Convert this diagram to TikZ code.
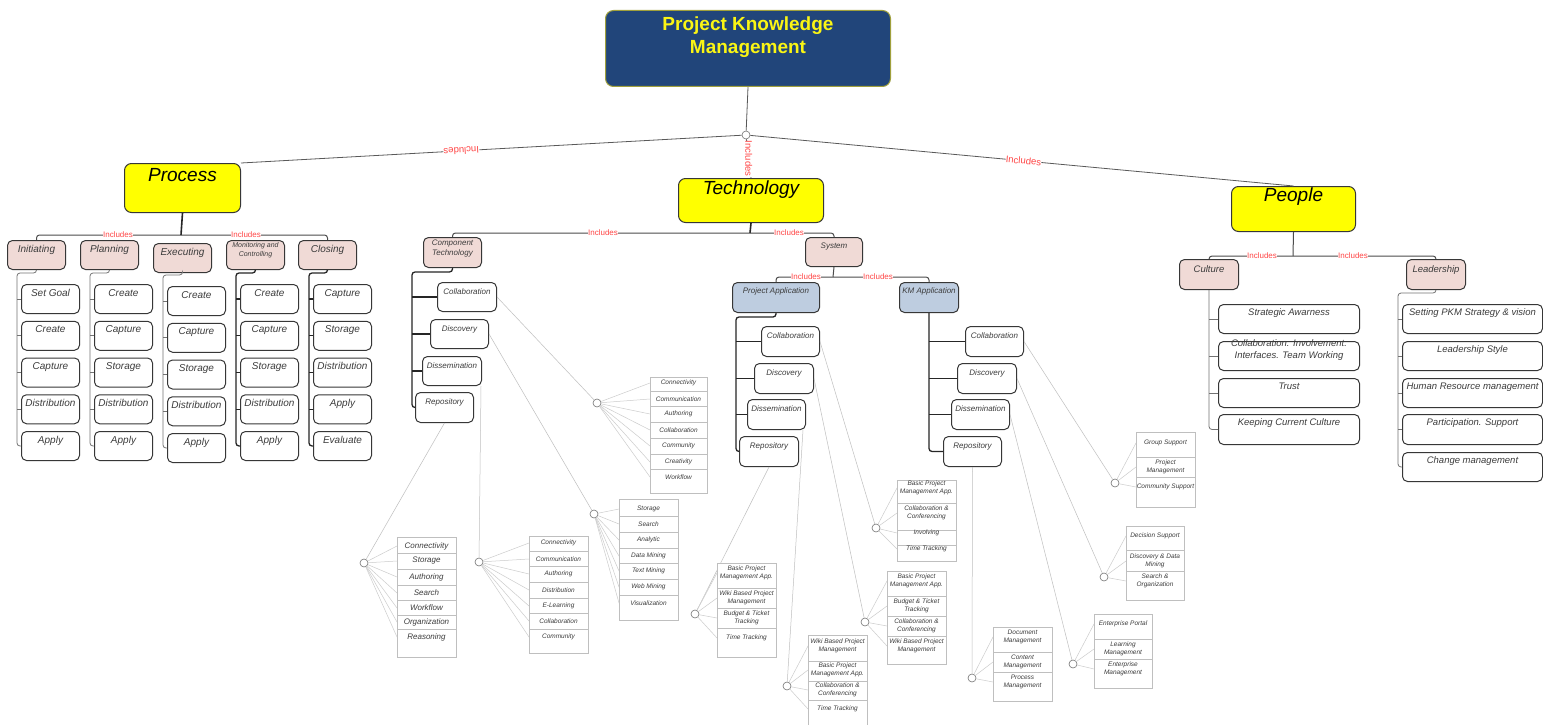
\documentclass[tikz,border=0pt]{standalone}
\usepackage{fontspec}
\setmainfont{Liberation Sans}
\usetikzlibrary{calc}
\definecolor{kmblue}{RGB}{33,69,122}
\definecolor{kmborder}{RGB}{160,160,60}
\definecolor{kmyellow}{RGB}{255,255,0}
\definecolor{kmtitle}{RGB}{250,245,20}
\definecolor{kmpink}{RGB}{240,218,214}
\definecolor{kmlblue}{RGB}{190,205,224}
\definecolor{kmred}{RGB}{255,70,70}
\definecolor{kmtext}{RGB}{60,60,60}
\definecolor{kmedge}{RGB}{55,55,55}
% box with text at its top: name, style, x, y, w, h, text style, yshift, text
\newcommand\bx[9]{%
  \node[#2, minimum width=#5pt, minimum height=#6pt, anchor=north west] (#1) at ({#3},{#4}) {};
  \node[txtnode, #7, anchor=north] (#1-t) at ([yshift=#8pt]#1.north) {#9};}
% list box: id, x, y, w, h, items (text/y), dividers, text style
\newcommand\lbox[8]{%
  \node[listbox, minimum width=#4pt, minimum height=#5pt, anchor=north west] (#1) at (#2,#3) {};
  \foreach \yy in {#7} {\draw[listdiv] (#2,\yy) -- ({#2+#4},\yy);}
  \foreach \itm/\yy [count=\ix] in {#6} {%
    \node[#8] (#1-\ix) at ({#2+#4/2},\yy) {\itm};
    \draw[fanln] (#1-hub) -- (#1.west |- #1-\ix);
  }}
\begin{document}
\begin{tikzpicture}[x=1pt,y=-1pt,
  boxbase/.style={draw=kmedge, line width=1pt, rounded corners=5pt},
  ybox/.style={boxbase, fill=kmyellow, rounded corners=7pt},
  pbox/.style={boxbase, fill=kmpink},
  bbox/.style={boxbase, fill=kmlblue},
  wbox/.style={boxbase, fill=white},
  titlebox/.style={draw=kmborder, line width=1pt, fill=kmblue, rounded corners=8pt},
  txtnode/.style={align=center, inner sep=1pt, text=kmtext},
  ftitle/.style={font=\fontsize{19}{23}\selectfont\bfseries, text=kmtitle},
  fbig/.style={font=\fontsize{19}{22}\selectfont\itshape, text=black},
  fmid/.style={font=\fontsize{10}{12}\selectfont\itshape},
  fsm/.style={font=\fontsize{8}{9.5}\selectfont\itshape},
  fxs/.style={font=\fontsize{7}{9}\selectfont\itshape},
  fpe/.style={font=\fontsize{9.5}{12}\selectfont\itshape},
  inclbl/.style={text=kmred, fill=white, inner sep=0.3pt, font=\fontsize{8}{9}\selectfont},
  incbig/.style={inclbl, font=\fontsize{9.5}{10}\selectfont},
  toplink/.style={draw=black!65, line width=0.8pt},
  trunkln/.style={draw=black!85, line width=1.6pt},
  busln/.style={draw=black!70, line width=1pt, rounded corners=3pt},
  treeln/.style={draw=black!55, line width=0.8pt, rounded corners=3pt},
  treek/.style={draw=black!85, line width=1.3pt, rounded corners=3pt},
  thinl/.style={draw=black!25, line width=0.5pt},
  fanln/.style={draw=black!20, line width=0.5pt},
  hubc/.style={circle, draw=black!55, fill=white, minimum size=8pt, inner sep=0pt, line width=0.6pt},
  listbox/.style={draw=black!25, fill=white, line width=0.5pt},
  listdiv/.style={draw=black!25, line width=0.5pt},
  listtxt/.style={align=center, inner sep=0.5pt, text=kmtext, font=\fontsize{6.5}{8}\selectfont\itshape},
  listtxtb/.style={listtxt, font=\fontsize{8}{9.5}\selectfont\itshape}
]
\useasboundingbox (0,0) rectangle (1543,725);
\fill[white] (0,0) rectangle (1543,725);

% ---------- title ----------
\bx{title}{titlebox}{605}{10}{285}{76}{ftitle}{-6}{Project Knowledge\\Management}
\node[hubc] (hub) at (746,135) {};

% ---------- Process ----------
\bx{process}{ybox}{124}{163}{116}{49}{fbig}{-4}{Process}
\bx{init}{pbox}{7}{240}{58}{29}{fmid}{-4.5}{Initiating}
\bx{plan}{pbox}{80}{240}{58}{29}{fmid}{-4.5}{Planning}
\bx{exec}{pbox}{153}{243}{58}{29}{fmid}{-4.5}{Executing}
\bx{moni}{pbox}{226}{240}{58}{29}{fxs}{-1.2}{Monitoring and\\Controlling}
\bx{clos}{pbox}{298}{240}{58}{29}{fmid}{-4.5}{Closing}
\foreach \lab [count=\i] in {Set Goal,Create,Capture,Distribution,Apply}
  {\bx{init\i}{wbox}{21}{284+(\i-1)*36.75}{58}{29}{fmid}{-4}{\lab}}
\foreach \lab [count=\i] in {Create,Capture,Storage,Distribution,Apply}
  {\bx{plan\i}{wbox}{94}{284+(\i-1)*36.75}{58}{29}{fmid}{-4}{\lab}}
\foreach \lab [count=\i] in {Create,Capture,Storage,Distribution,Apply}
  {\bx{exec\i}{wbox}{167}{286+(\i-1)*36.75}{58}{29}{fmid}{-4}{\lab}}
\foreach \lab [count=\i] in {Create,Capture,Storage,Distribution,Apply}
  {\bx{moni\i}{wbox}{240}{284+(\i-1)*36.75}{58}{29}{fmid}{-4}{\lab}}
\foreach \lab [count=\i] in {Capture,Storage,Distribution,Apply,Evaluate}
  {\bx{clos\i}{wbox}{313}{284+(\i-1)*36.75}{58}{29}{fmid}{-4}{\lab}}
\foreach \p/\tx/\ty/\st in {init/17/273/treeln, plan/90/273/treeln, exec/163/275/treeln, moni/236/273/treek, clos/309/273/treek}{
  \coordinate (\p-tr) at (\tx,\ty);
  \draw[\st] (\p.south) |- (\p-tr) -- (\p-tr |- \p5.west) -- (\p5.west);
  \foreach \k in {1,...,4} {\draw[\st] (\p\k.west) -- (\p\k.west -| \p-tr);}
}
\coordinate (pj) at (181,235);
\draw[trunkln] (process.south) -- (pj);
\draw[busln] (init.north) |- (pj) -| (clos.north);
\node[inclbl] (inc-p1) at (118,235) {Includes};
\node[inclbl] (inc-p2) at (246,235) {Includes};

% ---------- Technology ----------
\bx{tech}{ybox}{678}{178}{145}{44}{fbig}{-2}{Technology}
\bx{comp}{pbox}{423}{237}{58}{30}{fsm}{-2}{Component\\Technology}
\bx{sys}{pbox}{805}{237}{57}{29}{fsm}{-5}{System}
\coordinate (tj) at (750,233);
\draw[trunkln] (tech.south) -- (tj);
\draw[busln] (comp.north) |- (tj) -| (sys.north);
\node[inclbl] (inc-t1) at (603,233) {Includes};
\node[inclbl] (inc-t2) at (789,233) {Includes};

\bx{ct1}{wbox}{437}{282}{59}{29}{fsm}{-6}{Collaboration}
\bx{ct2}{wbox}{430}{319}{58}{29}{fsm}{-6}{Discovery}
\bx{ct3}{wbox}{422}{356}{59}{29}{fsm}{-6}{Dissemination}
\bx{ct4}{wbox}{415}{392}{58}{30}{fsm}{-6}{Repository}
\coordinate (ct-tr) at (412,272);
\draw[treek] (comp.south) |- (ct-tr) -- (ct-tr |- ct4.west) -- (ct4.west);
\foreach \k in {1,2,3} {\draw[treek] (ct\k.west) -- (ct\k.west -| ct-tr);}

\bx{pa}{bbox}{732}{282}{87}{30}{fsm}{-5}{Project Application}
\bx{km}{bbox}{899}{282}{59}{30}{fsm}{-5}{KM Application}
\coordinate (sj) at (833,277);
\draw[busln] (sys.south) -- (sj);
\draw[busln] (pa.north) |- (sj) -| (km.north);
\node[inclbl] (inc-s1) at (806,277) {Includes};
\node[inclbl] (inc-s2) at (878,277) {Includes};

\bx{pa1}{wbox}{761}{326}{58}{30}{fsm}{-5.5}{Collaboration}
\bx{pa2}{wbox}{754}{363}{59}{30}{fsm}{-5.5}{Discovery}
\bx{pa3}{wbox}{747}{399}{58}{30}{fsm}{-5.5}{Dissemination}
\bx{pa4}{wbox}{739}{436}{59}{30}{fsm}{-5.5}{Repository}
\coordinate (pa-tr) at (736,317);
\draw[treek] (pa.south) |- (pa-tr) -- (pa-tr |- pa4.west) -- (pa4.west);
\foreach \k in {1,2,3} {\draw[treek] (pa\k.west) -- (pa\k.west -| pa-tr);}

\bx{km1}{wbox}{965}{326}{58}{30}{fsm}{-5.5}{Collaboration}
\bx{km2}{wbox}{957}{363}{59}{30}{fsm}{-5.5}{Discovery}
\bx{km3}{wbox}{951}{399}{58}{30}{fsm}{-5.5}{Dissemination}
\bx{km4}{wbox}{943}{436}{58}{30}{fsm}{-5.5}{Repository}
\draw[treek] (km.south) -- (km.south |- km4.west) -- (km4.west);
\foreach \k in {1,2,3} {\draw[treek] (km\k.west) -- (km\k.west -| km.south);}

% ---------- People ----------
\bx{people}{ybox}{1231}{186}{124}{45}{fbig}{-0.5}{People}
\bx{cult}{pbox}{1179}{259}{59}{30}{fpe}{-5.5}{Culture}
\bx{lead}{pbox}{1406}{259}{59}{30}{fpe}{-5.5}{Leadership}
\coordinate (pj2) at (1293,256);
\draw[busln] (people.south) -- (pj2);
\draw[busln] (cult.north) |- (pj2) -| (lead.north);
\node[inclbl] (inc-e1) at (1262,256) {Includes};
\node[inclbl] (inc-e2) at (1353,256) {Includes};

\bx{cu1}{wbox}{1218}{304}{141}{29}{fpe}{-3.5}{Strategic Awarness}
\bx{cu2}{wbox}{1218}{341}{141}{29}{fpe}{2.5}{Collaboration. Involvement.\\Interfaces. Team Working}
\bx{cu3}{wbox}{1218}{378}{141}{29}{fpe}{-3.5}{Trust}
\bx{cu4}{wbox}{1218}{414}{141}{30}{fpe}{-3.5}{Keeping Current Culture}
\draw[treeln] (cult.south) -- (cult.south |- cu4.west) -- (cu4.west);
\foreach \k in {1,2,3} {\draw[treeln] (cu\k.west) -- (cu\k.west -| cult.south);}

\bx{le1}{wbox}{1402}{304}{140}{29}{fpe}{-3.5}{Setting PKM Strategy \& vision}
\bx{le2}{wbox}{1402}{341}{140}{29}{fpe}{-3.5}{Leadership Style}
\bx{le3}{wbox}{1402}{378}{140}{29}{fpe}{-3.5}{Human Resource management}
\bx{le4}{wbox}{1402}{414}{140}{30}{fpe}{-3.5}{Participation. Support}
\bx{le5}{wbox}{1402}{452}{140}{29}{fpe}{-3.5}{Change management}
\coordinate (le-tr) at (1398,293);
\draw[treeln] (lead.south) |- (le-tr) -- (le-tr |- le5.west) -- (le5.west);
\foreach \k in {1,2,3,4} {\draw[treeln] (le\k.west) -- (le\k.west -| le-tr);}

% ---------- top connectors ----------
\draw[toplink] (title.south) -- (hub);
\draw[toplink] (hub) -- (process.north east) node[incbig, pos=0.56, rotate=183.2] (inc-top1) {Includes};
\draw[toplink] (hub) -- (tech.north) node[incbig, pos=0.5, rotate=-90] (inc-top2) {Includes};
\draw[toplink] (hub) -- (people.north) node[incbig, pos=0.503, rotate=-5.3] (inc-top3) {Includes};

% ---------- hubs ----------
\node[hubc] (la-hub) at (597,403) {};
\node[hubc] (lb-hub) at (594,514) {};
\node[hubc] (lc-hub) at (479,562) {};
\node[hubc] (ld-hub) at (364,563) {};
\node[hubc] (le-hub) at (876,528) {};
\node[hubc] (lf-hub) at (865,622) {};
\node[hubc] (lg-hub) at (787,686) {};
\node[hubc] (lh-hub) at (695,614) {};
\node[hubc] (li-hub) at (1115,483) {};
\node[hubc] (lj-hub) at (1104,577) {};
\node[hubc] (lk-hub) at (1073,664) {};
\node[hubc] (ll-hub) at (972,678) {};
\draw[thinl] (ct1.east) -- (la-hub);
\draw[thinl] (ct2.east) -- (lb-hub);
\draw[thinl] ([xshift=-1pt]ct3.south east) -- (lc-hub);
\draw[thinl] (ct4.south) -- (ld-hub);
\draw[thinl] (pa1.east) -- (le-hub);
\draw[thinl] (pa2.east) -- (lf-hub);
\draw[thinl] ([xshift=-3pt]pa3.south east) -- (lg-hub);
\draw[thinl] (pa4.south) -- (lh-hub);
\draw[thinl] (km1.east) -- (li-hub);
\draw[thinl] (km2.east) -- (lj-hub);
\draw[thinl] (km3.east) -- (lk-hub);
\draw[thinl] (km4.south) -- (ll-hub);

% ---------- lists ----------
\lbox{la}{650}{377}{57}{116}{Connectivity/383,Communication/399,Authoring/414,Collaboration/430,Community/446,Creativity/462,Workflow/477}{391,406.5,422,438,454,469.5}{listtxt}
\lbox{lb}{619}{499}{59}{121}{Storage/509,Search/524,Analytic/540,Data Mining/556,Text Mining/571,Web Mining/587,Visualization/603}{516.5,532,548,563.5,579,595}{listtxt}
\lbox{lc}{529}{536}{59}{117}{Connectivity/543,Communication/559,Authoring/574,Distribution/590,E-Learning/606,Collaboration/621,Community/637}{551,566.5,582,598,613.5,629}{listtxt}
\lbox{ld}{397}{537}{59}{120}{Connectivity/546,Storage/561,Authoring/577,Search/593,Workflow/608,Organization/622,Reasoning/637}{553.5,569,585,600.5,615,629.5}{listtxtb}
\lbox{le}{897}{480}{59}{81}{{Basic Project\\Management App.}/488,{Collaboration \&\\Conferencing}/513,Involving/533,{Time Tracking}/549}{503,530,545}{listtxt}
\lbox{lf}{887}{571}{59}{93}{{Basic Project\\Management App.}/581,{Budget \& Ticket\\Tracking}/606,{Collaboration \&\\Conferencing}/626,{Wiki Based Project\\Management}/646}{596,616,636}{listtxt}
\lbox{lg}{808}{635}{59}{89.5}{{Wiki Based Project\\Management}/646,{Basic Project\\Management App.}/670,{Collaboration \&\\Conferencing}/690,{Time Tracking}/709}{661,681,700}{listtxt}
\lbox{lh}{717}{563}{59}{94}{{Basic Project\\Management App.}/573,{Wiki Based Project\\Management}/598,{Budget \& Ticket\\Tracking}/618,{Time Tracking}/638}{588,608,628}{listtxt}
\lbox{li}{1136}{432}{59}{75}{{Group Support}/443,{Project\\Management}/467,{Community Support}/487}{457,477}{listtxt}
\lbox{lj}{1126}{526}{58}{74}{{Decision Support}/536,{Discovery \& Data\\Mining}/561,{Search \&\\Organization}/581}{550,571}{listtxt}
\lbox{lk}{1094}{614}{58}{74}{{Enterprise Portal}/624,{Learning\\Management}/649,{Enterprise\\Management}/669}{639,659}{listtxt}
\lbox{ll}{993}{627}{59}{74}{{Document\\Management}/637,{Content\\Management}/662,{Process\\Management}/682}{652,672}{listtxt}
\end{tikzpicture}
\end{document}
